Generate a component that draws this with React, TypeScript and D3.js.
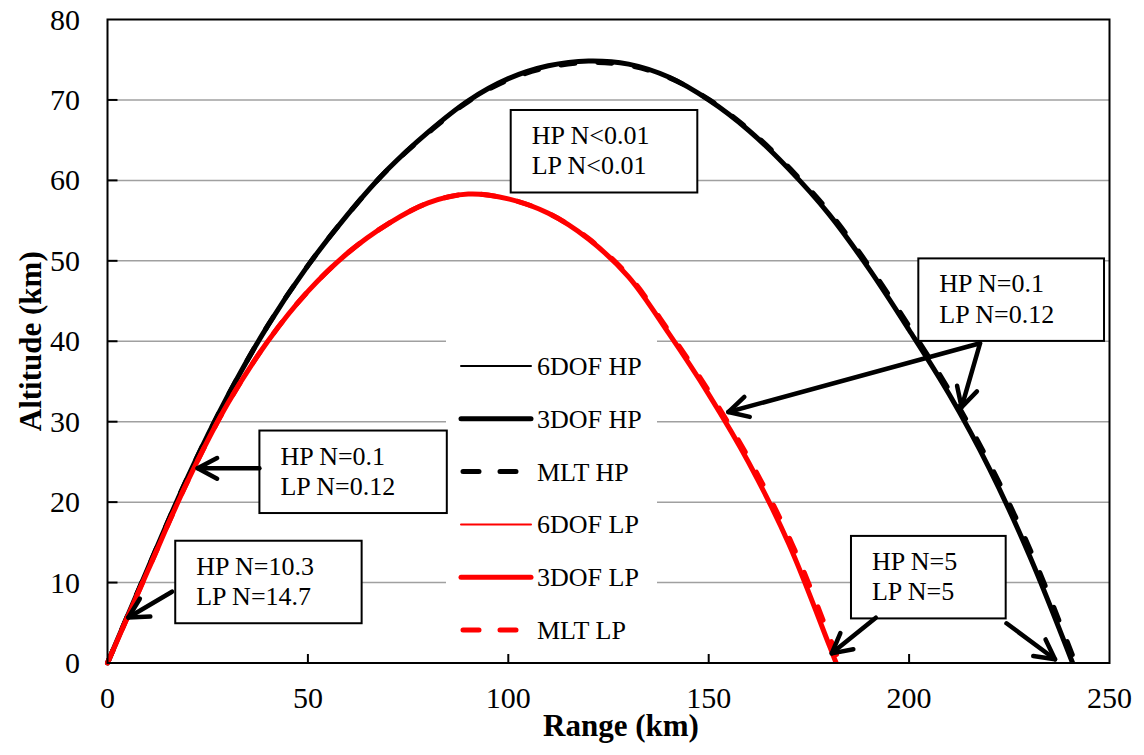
import React from "react";
import * as d3 from "d3";

// ---- data (range km, altitude km) ----
const rangeTicks = [0, 50, 100, 150, 200, 250];
const altTicks = [0, 10, 20, 30, 40, 50, 60, 70, 80];

const hp6dof: [number, number][] = [
  [0, 0], [10, 11.7], [20, 23.1], [30, 33.2], [40, 41.95], [50, 49.4], [60, 55.8], [70, 61.4],
  [80, 66.0], [90, 69.9], [100, 72.6], [110, 74.2], [120, 74.8], [130, 74.4], [140, 72.8],
  [150, 70.0], [160, 66.2], [170, 61.4], [180, 55.8], [190, 49.0], [200, 41.4], [210, 33.4],
  [220, 24.2], [230, 13.4], [240.7, 0],
];
const hp3dof: [number, number][] = [
  [0, 0], [10, 11.7], [20, 23.1], [30, 33.2], [40, 41.95], [50, 49.4], [60, 55.8], [70, 61.4],
  [80, 66.0], [90, 69.9], [100, 72.65], [110, 74.25], [120, 74.85], [130, 74.45], [140, 72.85],
  [150, 70.0], [160, 66.2], [170, 61.4], [180, 55.8], [190, 49.0], [200, 41.4], [210, 33.4],
  [220, 24.2], [230, 13.4], [240.8, 0],
];
const hpMlt: [number, number][] = [
  [0, 0], [10, 11.7], [20, 23.1], [30, 33.2], [40, 41.95], [50, 49.4], [60, 55.8], [70, 61.4],
  [80, 65.9], [90, 69.8], [100, 72.5], [110, 74.05], [120, 74.65], [130, 74.3], [140, 72.8],
  [150.2, 70.0], [160.3, 66.2], [170.4, 61.4], [180.5, 55.8], [190.5, 49.0], [200.6, 41.4],
  [210.6, 33.4], [220.7, 24.2], [230.8, 13.4], [241.5, 0],
];

const lp6dof: [number, number][] = [
  [0, 0], [10, 11.4], [20, 22.6], [30, 32.25], [40, 40.0], [50, 46.2], [60, 51.0], [70, 54.6],
  [80, 57.2], [90, 58.3], [100, 57.7], [110, 55.9], [120, 52.7], [130, 48.0], [140, 41.0],
  [150, 33.4], [160, 24.9], [170, 14.8], [180, 2.3], [181.8, 0],
];
const lp3dof: [number, number][] = [
  [0, 0], [10, 11.4], [20, 22.6], [30, 32.25], [40, 40.0], [50, 46.2], [60, 51.0], [70, 54.6],
  [80, 57.2], [90, 58.3], [100, 57.7], [110, 55.9], [120, 52.7], [130, 48.0], [140, 41.0],
  [150, 33.4], [160, 24.9], [170, 14.8], [180, 2.3], [181.8, 0],
];
const lpMlt: [number, number][] = [
  [0, 0], [10, 11.4], [20, 22.6], [30, 32.25], [40, 40.0], [50, 46.2], [60, 51.0], [70, 54.6],
  [80, 57.2], [90, 58.3], [100, 57.7], [110.1, 55.9], [120.2, 52.7], [130.3, 48.0],
  [140.4, 41.0], [150.5, 33.4], [160.6, 24.9], [170.8, 14.8], [180.9, 2.3], [182.7, 0],
];

const seriesNames = ["6DOF HP", "3DOF HP", "MLT HP", "6DOF LP", "3DOF LP", "MLT LP"];

// annotation boxes: top-left corner (range, altitude), text lines, arrows (from -> to)
const noteLines = [
  ["HP N<0.01", "LP N<0.01"],
  ["HP N=0.1", "LP N=0.12"],
  ["HP N=0.1", "LP N=0.12"],
  ["HP N=10.3", "LP N=14.7"],
  ["HP N=5", "LP N=5"],
];
const noteCorners: [number, number][] = [
  [100.6, 68.75], [202.3, 50.3], [37.9, 28.9], [16.9, 15.2], [185.5, 15.8],
];
const noteArrows: [number, number, number, number][][] = [
  [],
  [[217.7, 39.75, 154.9, 31.2], [217.7, 39.75, 213.1, 31.8]],
  [[37.9, 24.2, 22.5, 24.2]],
  [[16.1, 8.86, 5.2, 5.66]],
  [[191.7, 5.63, 180.7, 1.2], [224.3, 4.94, 236.4, 0.46]],
];

// ---- layout ----
const W = 1144;
const H = 755;
const L = 107.5, R = 1109.5, T = 19.5, B = 663;
const FONT = "'Liberation Serif', 'Times New Roman', serif";

export default function App() {
  const x = d3.scaleLinear().domain([0, 250]).range([L, R]);
  const y = d3.scaleLinear().domain([0, 80]).range([B, T]);
  const line = d3
    .line<[number, number]>()
    .x((d) => x(d[0]))
    .y((d) => y(d[1]))
    .curve(d3.curveCatmullRom.alpha(0.5));

  const boxW = [186.6, 185.7, 187.4, 186.4, 154.7];
  const boxH = 82.5;

  const series = [
    { data: hp6dof, color: "#000", w: 2, dash: undefined },
    { data: hp3dof, color: "#000", w: 5, dash: undefined },
    { data: hpMlt, color: "#000", w: 5, dash: "14 23" },
    { data: lp6dof, color: "#ff0000", w: 2, dash: undefined },
    { data: lp3dof, color: "#ff0000", w: 5, dash: undefined },
    { data: lpMlt, color: "#ff0000", w: 5, dash: "14 23" },
  ];

  const arrowHead = (x1: number, y1: number, x2: number, y2: number) => {
    const ang = Math.atan2(y2 - y1, x2 - x1);
    const len = 22;
    const a = (28 * Math.PI) / 180;
    const p1 = [x2 - len * Math.cos(ang - a), y2 - len * Math.sin(ang - a)];
    const p2 = [x2 - len * Math.cos(ang + a), y2 - len * Math.sin(ang + a)];
    return `M${p1[0]},${p1[1]}L${x2},${y2}L${p2[0]},${p2[1]}`;
  };

  const legX1 = 461, legX2 = 531, legTop = 366, legStep = 52.8;

  return (
    <svg
      width={W}
      height={H}
      style={{ position: "absolute", left: 0, top: 0, background: "#fff", fontFamily: FONT }}
    >
      <rect x={0} y={0} width={W} height={H} fill="#fff" />
      {/* gridlines */}
      {altTicks.filter((t) => t > 0 && t < 80).map((t) => (
        <line key={"g" + t} x1={L} x2={R} y1={y(t)} y2={y(t)} stroke="#a0a0a0" strokeWidth={1.5} />
      ))}
      {/* legend background */}
      <rect x={446} y={336} width={211} height={318} fill="#fff" />

      {/* curves */}
      {series.map((s, i) => (
        <path
          key={"s" + i}
          d={line(s.data) || ""}
          fill="none"
          stroke={s.color}
          strokeWidth={s.w}
          strokeDasharray={s.dash}
          strokeLinecap={s.dash ? "round" : "butt"}
          strokeLinejoin="round"
        />
      ))}

      {/* frame */}
      <rect x={L} y={T} width={R - L} height={B - T} fill="none" stroke="#000" strokeWidth={2} />
      {/* ticks */}
      {altTicks.filter((t) => t > 0 && t < 80).map((t) => (
        <line key={"yt" + t} x1={L} x2={L + 10} y1={y(t)} y2={y(t)} stroke="#000" strokeWidth={2} />
      ))}
      {rangeTicks.filter((t) => t > 0 && t < 250).map((t) => (
        <line key={"xt" + t} x1={x(t)} x2={x(t)} y1={B} y2={B - 9} stroke="#000" strokeWidth={2} />
      ))}
      {/* tick labels */}
      {altTicks.map((t) => (
        <text key={"yl" + t} x={80} y={y(t) + 10} fontSize={30} textAnchor="end" fill="#000">
          {t}
        </text>
      ))}
      {rangeTicks.map((t) => (
        <text key={"xl" + t} x={x(t)} y={708} fontSize={30} textAnchor="middle" fill="#000">
          {t}
        </text>
      ))}
      {/* axis titles */}
      <text x={621} y={736} fontSize={31} fontWeight="bold" textAnchor="middle" fill="#000">
        Range (km)
      </text>
      <text
        transform={`translate(41,${(T + B) / 2}) rotate(-90)`}
        fontSize={31}
        fontWeight="bold"
        textAnchor="middle"
        fill="#000"
      >
        Altitude (km)
      </text>

      {/* legend */}
      {seriesNames.map((n, i) => {
        const s = series[i];
        const ly = legTop + i * legStep;
        return (
          <g key={"lg" + i}>
            <line
              x1={s.dash ? legX1 + 2 : legX1}
              x2={s.dash ? legX2 - 2 : legX2}
              y1={ly}
              y2={ly}
              stroke={s.color}
              strokeWidth={s.w}
              strokeDasharray={s.dash ? "16 21" : undefined}
              strokeLinecap="round"
            />
            <text x={537} y={ly + 9} fontSize={26} fill="#000">
              {n}
            </text>
          </g>
        );
      })}

      {/* annotations */}
      {noteLines.map((lines, i) => {
        const bx = x(noteCorners[i][0]);
        const by = y(noteCorners[i][1]);
        return (
          <g key={"n" + i}>
            <rect x={bx} y={by} width={boxW[i]} height={boxH} fill="#fff" stroke="#000" strokeWidth={2} />
            {lines.map((t, j) => (
              <text key={j} x={bx + 21} y={by + 34 + j * 30.5} fontSize={26} fill="#000">
                {t}
              </text>
            ))}
            {noteArrows[i].map((a, k) => {
              const x1 = x(a[0]), y1 = y(a[1]), x2 = x(a[2]), y2 = y(a[3]);
              return (
                <g key={k} stroke="#000" strokeWidth={4.5} fill="none" strokeLinecap="round" strokeLinejoin="round">
                  <line x1={x1} y1={y1} x2={x2} y2={y2} />
                  <path d={arrowHead(x1, y1, x2, y2)} />
                </g>
              );
            })}
          </g>
        );
      })}
    </svg>
  );
}
